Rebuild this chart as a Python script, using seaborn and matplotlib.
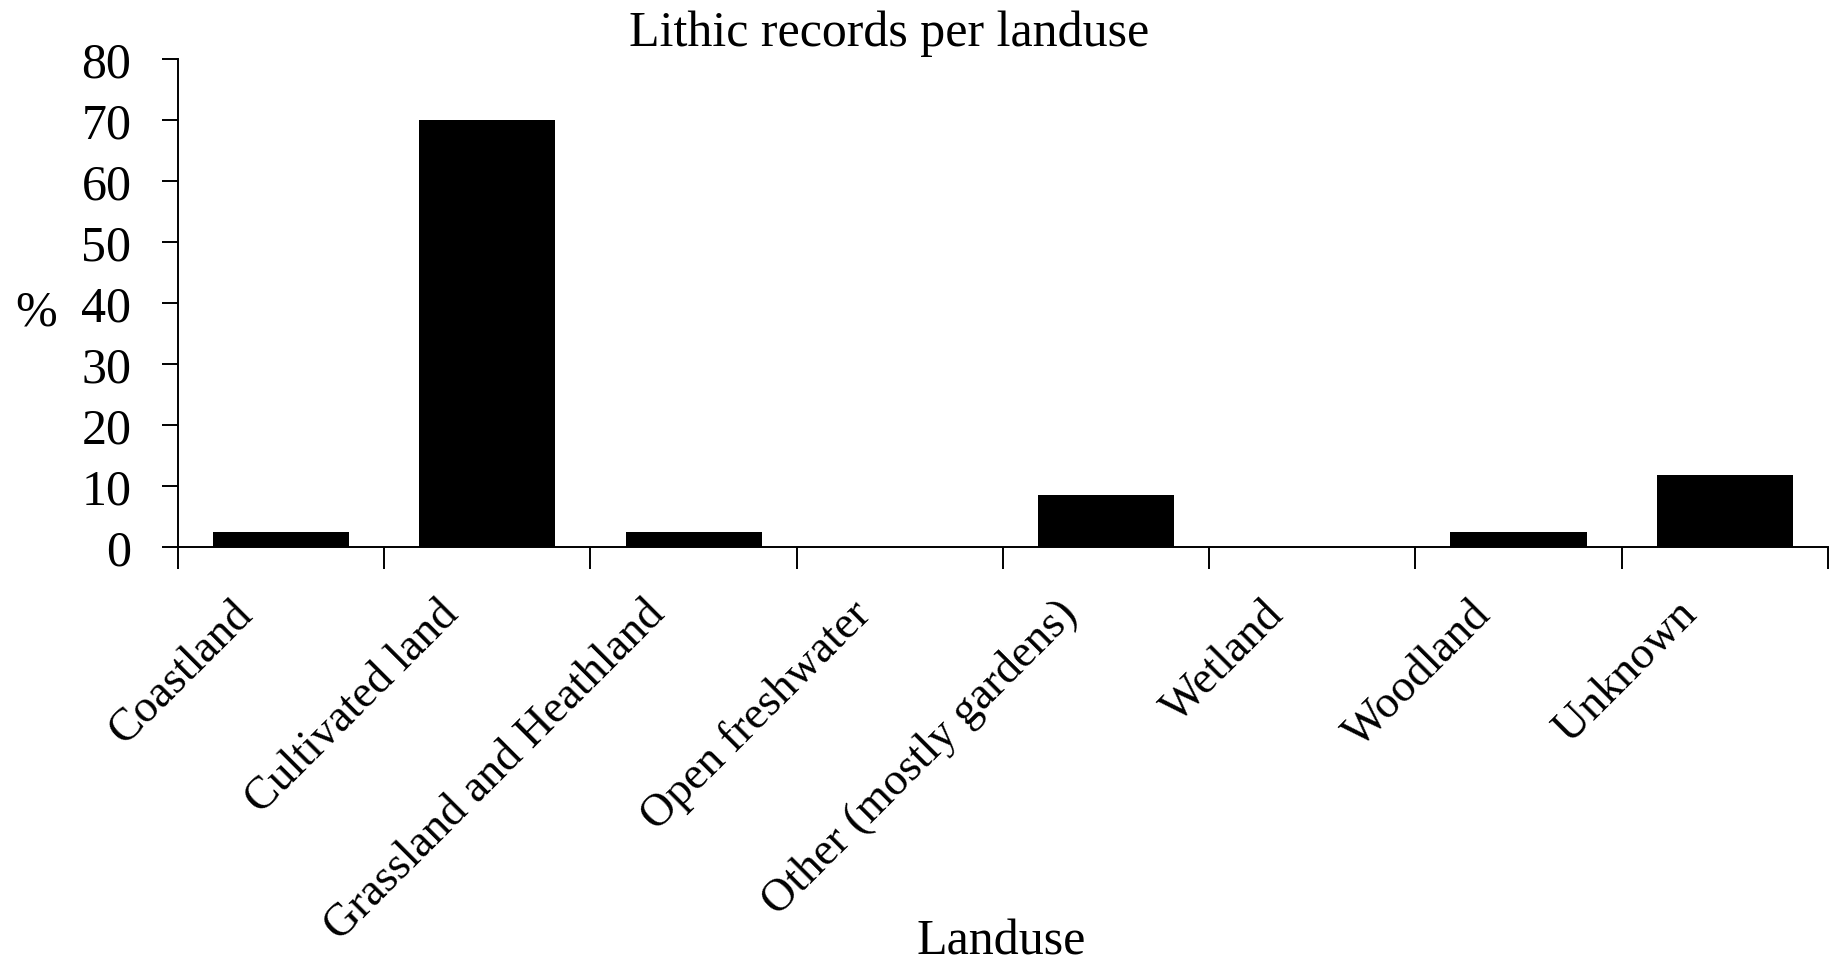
import numpy as np
import matplotlib
matplotlib.use('Agg')
import matplotlib.pyplot as plt
import seaborn as sns
from matplotlib.transforms import ScaledTranslation

# Values (percent of lithic records)
landuse = ['Coastland', 'Cultivated land', 'Grassland and Heathland', 'Open freshwater',
           'Other (mostly gardens)', 'Wetland', 'Woodland', 'Unknown']
percent = [2.5, 70.0, 2.5, 0.0, 8.5, 0.0, 2.5, 11.9]
y_ticks = [0, 10, 20, 30, 40, 50, 60, 70, 80]

sns.set_style('ticks')
# Times-like look, set after seaborn so it sticks
plt.rcParams['font.family'] = ['Liberation Serif', 'DejaVu Serif']
plt.rcParams['text.color'] = 'black'
plt.rcParams['xtick.color'] = 'black'
plt.rcParams['ytick.color'] = 'black'
FS = 36
FS_X = 33  # rotated category labels need to fit above the bottom edge

fig = plt.figure(figsize=(18.29, 9.63), dpi=100)
ax = fig.add_axes([0.0973, 0.4317, 0.9021, 0.5067])

sns.barplot(x=landuse, y=percent, color='black', width=0.66, saturation=1,
            edgecolor='none', ax=ax)

ax.set_xlim(-0.5, len(landuse) - 0.5)
ax.set_ylim(0, 80)
ax.set_yticks(y_ticks)
ax.set_xlabel('')
ax.set_ylabel('')

# Excel-style ticks between categories
ax.set_xticks(np.arange(-0.5, len(landuse), 1), minor=True)
ax.tick_params(axis='x', which='minor', length=16, width=1.4, color='black')
ax.tick_params(axis='x', which='major', length=0, pad=33, labelsize=FS_X, labelcolor='black')
ax.tick_params(axis='y', length=11.5, width=1.4, pad=22, labelsize=FS, color='black',
               labelcolor='black')

offset = ScaledTranslation(-0.5, 0, fig.dpi_scale_trans)
for lab in ax.get_xticklabels():
    lab.set_rotation(45)
    lab.set_ha('right')
    lab.set_va('top')
    lab.set_rotation_mode('anchor')
    lab.set_transform(lab.get_transform() + offset)

sns.despine(ax=ax)
for side in ['left', 'bottom']:
    ax.spines[side].set_linewidth(1.4)
    ax.spines[side].set_color('black')
ax.grid(False)

fig.text(0.486, 1 - 46 / 963, 'Lithic records per landuse', ha='center', va='baseline',
         fontsize=FS, color='black')
fig.text(36 / 1829, 1 - 313 / 963, '%', ha='center', va='center', fontsize=FS, color='black')
fig.text(1001 / 1829, 1 - 954 / 963, 'Landuse', ha='center', va='baseline', fontsize=FS,
         color='black')

fig.savefig('out.png', dpi=100)
plt.close(fig)
